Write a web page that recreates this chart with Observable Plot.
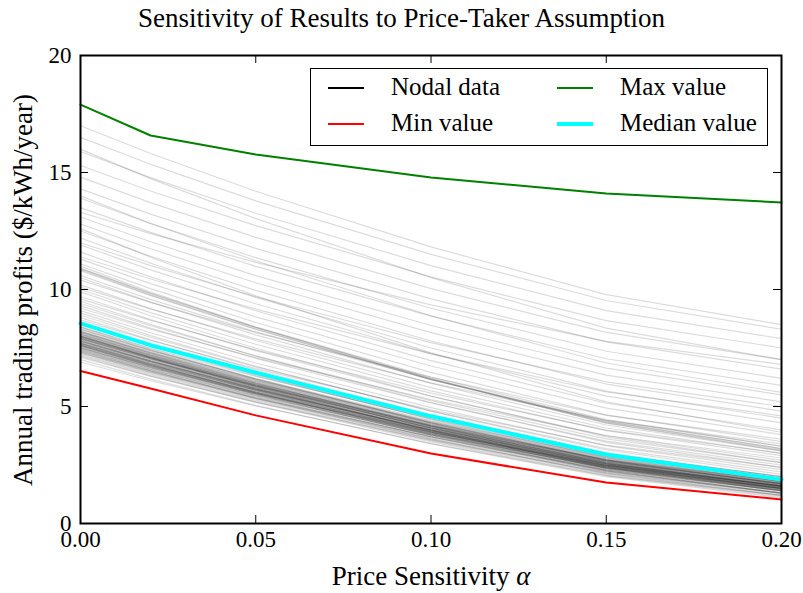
<!DOCTYPE html>
<html>
<head>
<meta charset="utf-8">
<script src="https://cdn.jsdelivr.net/npm/d3@7"></script>
<script src="https://cdn.jsdelivr.net/npm/@observablehq/plot@0.6"></script>
<style>
  body { margin: 0; background: #fff; font-family: "Liberation Serif", "DejaVu Serif", serif; }
  #wrap { position: relative; width: 803px; height: 593px; overflow: hidden; }
  #title { height: 40px; line-height: 37px; text-align: center; font-size: 27px; color: #000; }
  .lab { position: absolute; font-size: 27px; line-height: 30px; color: #000; white-space: nowrap; }
  #ylab { left: 23px; top: 290px; transform: translate(-50%, -50%) rotate(-90deg); }
  #xlab { left: 431px; top: 576px; transform: translate(-50%, -50%); }
  #legend { position: absolute; left: 310px; top: 68px; width: 456px; height: 76px;
            border: 1.5px solid #000; background: #fff; }
  .item { position: absolute; font-size: 25px; line-height: 26px; color: #000; white-space: nowrap; }
  .swatch { position: absolute; width: 36px; }
</style>
</head>
<body>
<div id="wrap">
  <div id="title">Sensitivity of Results to Price-Taker Assumption</div>
  <div id="chart"></div>
  <div class="lab" id="ylab">Annual trading profits ($/kWh/year)</div>
  <div class="lab" id="xlab">Price Sensitivity <i>α</i></div>
  <div id="legend"></div>
</div>
<script>
// Price sensitivity values at which every node was evaluated
const alphas = [0, 0.02, 0.05, 0.10, 0.15, 0.20];

// Annual trading profits ($/kWh/year) per node, one row per node
const nodalProfits = [
  [7.0, 6.17, 5.05, 3.4, 2.0, 1.1],
  [7.2, 6.36, 5.22, 3.54, 2.1, 1.2],
  [7.3, 6.46, 5.32, 3.64, 2.2, 1.3],
  [7.4, 6.53, 5.35, 3.62, 2.13, 1.2],
  [7.5, 6.65, 5.49, 3.78, 2.31, 1.4],
  [7.6, 6.72, 5.52, 3.76, 2.25, 1.3],
  [7.7, 6.83, 5.65, 3.92, 2.43, 1.5],
  [7.8, 6.9, 5.69, 3.9, 2.36, 1.4],
  [7.8, 6.93, 5.75, 4.02, 2.53, 1.6],
  [7.9, 7.0, 5.79, 4.0, 2.46, 1.5],
  [8.0, 7.1, 5.89, 4.1, 2.56, 1.6],
  [8.0, 7.08, 5.82, 3.97, 2.39, 1.4],
  [8.1, 7.2, 5.99, 4.2, 2.66, 1.7],
  [8.2, 7.28, 6.02, 4.17, 2.59, 1.6],
  [8.3, 7.39, 6.16, 4.34, 2.78, 1.8],
  [8.4, 7.46, 6.19, 4.31, 2.7, 1.7],
  [8.5, 7.58, 6.32, 4.47, 2.89, 1.9],
  [8.6, 7.65, 6.36, 4.45, 2.82, 1.8],
  [7.1, 6.29, 5.19, 3.56, 2.17, 1.3],
  [7.6, 6.75, 5.59, 3.88, 2.42, 1.5],
  [7.9, 7.03, 5.85, 4.12, 2.63, 1.7],
  [8.2, 7.32, 6.12, 4.36, 2.85, 1.9],
  [7.5, 6.67, 5.55, 3.9, 2.48, 1.6],
  [8.0, 7.13, 5.95, 4.22, 2.73, 1.8],
  [7.7, 6.8, 5.59, 3.8, 2.26, 1.3],
  [8.4, 7.5, 6.29, 4.5, 2.96, 2.0],
  [6.9, 6.1, 5.02, 3.42, 2.05, 1.2],
  [8.8, 7.85, 6.56, 4.65, 3.02, 2.0],
  [7.25, 6.41, 5.27, 3.59, 2.15, 1.25],
  [7.35, 6.51, 5.37, 3.69, 2.25, 1.35],
  [7.45, 6.59, 5.42, 3.7, 2.22, 1.3],
  [7.55, 6.7, 5.54, 3.83, 2.37, 1.45],
  [7.65, 6.78, 5.59, 3.84, 2.34, 1.4],
  [7.75, 6.88, 5.7, 3.97, 2.48, 1.55],
  [7.85, 6.96, 5.75, 3.98, 2.45, 1.5],
  [7.95, 7.06, 5.85, 4.08, 2.55, 1.6],
  [8.05, 7.15, 5.94, 4.15, 2.61, 1.65],
  [8.15, 7.23, 5.99, 4.15, 2.58, 1.6],
  [8.25, 7.34, 6.11, 4.29, 2.73, 1.75],
  [8.35, 7.42, 6.16, 4.29, 2.7, 1.7],
  [7.65, 6.8, 5.64, 3.93, 2.47, 1.55],
  [7.85, 6.95, 5.74, 3.95, 2.41, 1.45],
  [8.0, 7.1, 5.87, 4.07, 2.52, 1.55],
  [7.45, 6.61, 5.47, 3.79, 2.35, 1.45],
  [7.95, 7.08, 5.9, 4.17, 2.68, 1.75],
  [8.1, 7.18, 5.92, 4.07, 2.49, 1.5],
  [7.7, 6.85, 5.7, 4.01, 2.56, 1.65],
  [8.3, 7.4, 6.19, 4.4, 2.86, 1.9],
  [8.55, 7.63, 6.39, 4.55, 2.98, 2.0],
  [7.15, 6.31, 5.17, 3.49, 2.05, 1.15],
  [7.3, 6.47, 5.35, 3.7, 2.29, 1.4],
  [7.4, 6.57, 5.45, 3.8, 2.39, 1.5],
  [7.5, 6.66, 5.52, 3.84, 2.4, 1.5],
  [7.6, 6.76, 5.62, 3.94, 2.5, 1.6],
  [7.7, 6.85, 5.69, 3.98, 2.52, 1.6],
  [7.8, 6.95, 5.79, 4.08, 2.62, 1.7],
  [7.9, 7.02, 5.82, 4.06, 2.55, 1.6],
  [8.0, 7.12, 5.92, 4.16, 2.65, 1.7],
  [8.1, 7.22, 6.02, 4.26, 2.75, 1.8],
  [8.2, 7.29, 6.06, 4.24, 2.68, 1.7],
  [7.55, 6.71, 5.57, 3.89, 2.45, 1.55],
  [7.75, 6.9, 5.74, 4.03, 2.57, 1.65],
  [7.95, 7.07, 5.87, 4.11, 2.6, 1.65],
  [8.05, 7.17, 5.97, 4.21, 2.7, 1.75],
  [7.8, 6.93, 5.74, 3.99, 2.49, 1.55],
  [7.65, 6.79, 5.62, 3.9, 2.42, 1.5],
  [7.35, 6.52, 5.39, 3.72, 2.29, 1.4],
  [8.15, 7.27, 6.07, 4.31, 2.8, 1.85],
  [7.9, 7.05, 5.89, 4.18, 2.72, 1.8],
  [7.6, 6.74, 5.57, 3.85, 2.37, 1.45],
  [8.9, 7.96, 6.69, 4.81, 3.2, 2.2],
  [9.0, 8.03, 6.72, 4.79, 3.14, 2.1],
  [9.1, 8.15, 6.86, 4.95, 3.32, 2.3],
  [9.3, 8.35, 7.06, 5.15, 3.52, 2.5],
  [9.4, 8.45, 7.16, 5.25, 3.62, 2.6],
  [9.5, 8.51, 7.16, 5.17, 3.47, 2.4],
  [9.7, 8.72, 7.39, 5.43, 3.75, 2.7],
  [9.9, 8.88, 7.49, 5.45, 3.7, 2.6],
  [10.0, 9.01, 7.66, 5.67, 3.97, 2.9],
  [10.2, 9.19, 7.82, 5.81, 4.08, 3.0],
  [10.5, 9.46, 8.06, 5.99, 4.21, 3.1],
  [10.6, 9.58, 8.19, 6.15, 4.4, 3.3],
  [10.8, 9.74, 8.29, 6.16, 4.34, 3.2],
  [10.85, 9.77, 8.31, 6.15, 4.3, 3.15],
  [10.9, 9.82, 8.36, 6.2, 4.36, 3.2],
  [10.9, 9.84, 8.39, 6.26, 4.44, 3.3],
  [11.0, 9.89, 8.39, 6.18, 4.29, 3.1],
  [9.2, 8.3, 7.09, 5.3, 3.76, 2.8],
  [9.6, 8.68, 7.42, 5.57, 3.99, 3.0],
  [10.1, 9.16, 7.89, 6.01, 4.41, 3.4],
  [8.7, 7.82, 6.62, 4.86, 3.35, 2.4],
  [10.4, 9.45, 8.16, 6.25, 4.62, 3.6],
  [11.3, 10.25, 8.83, 6.73, 4.93, 3.8],
  [11.6, 10.54, 9.09, 6.96, 5.14, 4.0],
  [11.9, 10.84, 9.39, 7.26, 5.44, 4.3],
  [12.2, 11.12, 9.66, 7.5, 5.66, 4.5],
  [12.5, 11.42, 9.96, 7.8, 5.96, 4.8],
  [12.8, 11.74, 10.29, 8.16, 6.34, 5.2],
  [13.1, 12.04, 10.59, 8.46, 6.64, 5.5],
  [13.5, 12.44, 10.99, 8.86, 7.04, 5.9],
  [13.9, 12.82, 11.36, 9.2, 7.36, 6.2],
  [14.3, 13.22, 11.76, 9.6, 7.76, 6.6],
  [14.8, 13.71, 12.23, 10.04, 8.17, 7.0],
  [15.3, 14.21, 12.73, 10.54, 8.67, 7.5],
  [15.9, 14.78, 13.26, 11.02, 9.1, 7.9],
  [16.5, 15.35, 13.79, 11.5, 9.53, 8.3],
  [11.4, 10.45, 9.16, 7.25, 5.62, 4.6],
  [12.0, 11.02, 9.69, 7.73, 6.05, 5.0],
  [12.6, 11.38, 9.73, 7.29, 5.2, 3.9],
  [13.3, 12.39, 11.16, 9.34, 7.78, 6.8],
  [11.1, 10.04, 8.59, 6.46, 4.64, 3.5],
  [14.0, 12.82, 11.23, 8.88, 6.86, 5.6],
  [16.0, 14.74, 13.03, 10.51, 8.35, 7.0],
  [17.0, 15.81, 14.2, 11.82, 9.78, 8.5]
];

// Summary curves across all nodes
const minProfit    = [6.52, 5.77, 4.62, 2.99, 1.75, 1.03];
const maxProfit    = [17.9, 16.58, 15.77, 14.79, 14.1, 13.72];
const medianProfit = [8.55, 7.62, 6.45, 4.58, 2.95, 1.88];

// Axis ticks
const xTicks = [0, 0.05, 0.10, 0.15, 0.20];
const yTicks = [0, 5, 10, 15, 20];

const nodal = nodalProfits.flatMap((row, node) =>
  row.map((profit, i) => ({node, alpha: alphas[i], profit})));
const series = (vals) => vals.map((profit, i) => ({alpha: alphas[i], profit}));

const W = 803, H = 553;
const mL = 80, mR = 22, mT = 15, mB = 70;
const innerW = W - mL - mR, innerH = H - mT - mB;
const tick = 8;

const chart = Plot.plot({
  width: W,
  height: H,
  marginLeft: mL,
  marginRight: mR,
  marginTop: mT,
  marginBottom: mB,
  style: {fontFamily: "'Liberation Serif', 'DejaVu Serif', serif", fontSize: "23px", color: "#000", background: "#fff"},
  x: {domain: [0, 0.2]},
  y: {domain: [0, 20]},
  marks: [
    Plot.line(nodal, {x: "alpha", y: "profit", z: "node", stroke: "#000", strokeOpacity: 0.14, strokeWidth: 1.2}),
    Plot.line(series(minProfit), {x: "alpha", y: "profit", stroke: "#ff0000", strokeWidth: 2}),
    Plot.line(series(maxProfit), {x: "alpha", y: "profit", stroke: "#008000", strokeWidth: 2}),
    Plot.line(series(medianProfit), {x: "alpha", y: "profit", stroke: "#00ffff", strokeWidth: 4}),
    // inward ticks on all four sides
    Plot.tickX(xTicks, {x: d => d, stroke: "#000", insetTop: innerH - tick}),
    Plot.tickX(xTicks, {x: d => d, stroke: "#000", insetBottom: innerH - tick}),
    Plot.tickY(yTicks, {y: d => d, stroke: "#000", insetRight: innerW - tick}),
    Plot.tickY(yTicks, {y: d => d, stroke: "#000", insetLeft: innerW - tick}),
    Plot.axisX(xTicks, {tickSize: 0, tickPadding: 7, tickFormat: d3.format(".2f"), label: null, fontSize: 23}),
    Plot.axisY(yTicks, {tickSize: 0, tickPadding: 9, label: null, fontSize: 23}),
    Plot.frame({stroke: "#000", strokeWidth: 2})
  ]
});
document.getElementById("chart").append(chart);

// Legend
const legendItems = [
  {label: "Nodal data",   color: "#000",    width: 2, col: 0, row: 0},
  {label: "Min value",    color: "#ff0000", width: 2, col: 0, row: 1},
  {label: "Max value",    color: "#008000", width: 2, col: 1, row: 0},
  {label: "Median value", color: "#00ffff", width: 4, col: 1, row: 1}
];
const legend = document.getElementById("legend");
for (const it of legendItems) {
  const cx = it.col === 0 ? 17 : 246;
  const cy = it.row === 0 ? 19 : 55;
  const sw = document.createElement("div");
  sw.className = "swatch";
  sw.style.left = cx + "px";
  sw.style.top = (cy - it.width / 2) + "px";
  sw.style.height = it.width + "px";
  sw.style.background = it.color;
  legend.append(sw);
  const tx = document.createElement("div");
  tx.className = "item";
  tx.style.left = (cx + 63) + "px";
  tx.style.top = (cy - 14) + "px";
  tx.textContent = it.label;
  legend.append(tx);
}
</script>
</body>
</html>
